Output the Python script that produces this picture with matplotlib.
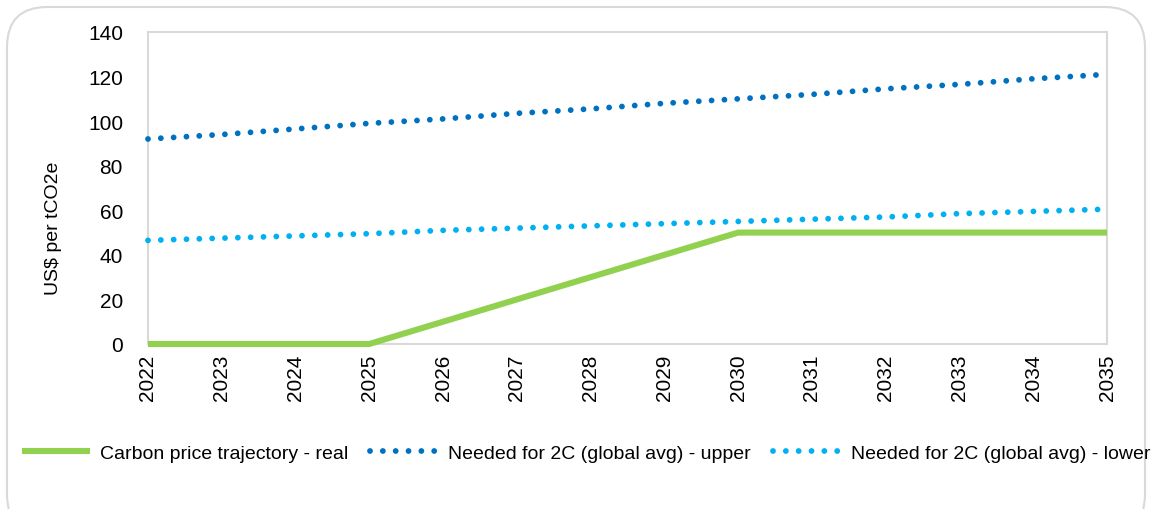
import matplotlib
matplotlib.use("Agg")
import matplotlib.pyplot as plt
from matplotlib import font_manager
from matplotlib.patches import FancyBboxPatch

names = {f.name for f in font_manager.fontManager.ttflist}
fam = 'Liberation Sans Narrow' if 'Liberation Sans Narrow' in names else 'Liberation Sans'
plt.rcParams['font.family'] = [fam, 'DejaVu Sans']

years = [2022, 2023, 2024, 2025, 2026, 2027, 2028, 2029, 2030, 2031, 2032, 2033, 2034, 2035]
real = [0, 0, 0, 0, 10, 20, 30, 40, 50, 50, 50, 50, 50, 50]
upper = [92, 94, 96.5, 99, 101, 103.5, 105.5, 108, 110, 112, 114.5, 116.5, 119, 121]
lower = [46.5, 47.5, 48.5, 49.5, 51, 52, 53, 54, 55, 56, 57, 58.5, 59.5, 60.5]
labels = ['Carbon price trajectory - real', 'Needed for 2C (global avg) - upper',
          'Needed for 2C (global avg) - lower']

fig = plt.figure(figsize=(11.52, 5.10), dpi=100)
ax = fig.add_axes([148/1152, 1-345/510, (1107-148)/1152, (345-33)/510])

border = FancyBboxPatch((7/1152, -0.05), (1145-7)/1152, (510-8)/510 + 0.05,
                        boxstyle="round,pad=0,rounding_size=0.035",
                        transform=fig.transFigure, facecolor='none',
                        edgecolor='#d9d9d9', linewidth=1.5, mutation_aspect=1152/510)
fig.patches.append(border)

lw = 4.2
ax.plot(years, real, color='#92d050', linewidth=4.4, solid_capstyle='butt',
        solid_joinstyle='miter', label=labels[0], clip_on=False, zorder=5)
ax.plot(years, upper, color='#0070c0', linewidth=lw, linestyle=(0, (0.001, 2.2)),
        dash_capstyle='round', label=labels[1], clip_on=False, zorder=4)
ax.plot(years, lower, color='#00b0f0', linewidth=lw, linestyle=(0, (0.001, 2.2)),
        dash_capstyle='round', label=labels[2], clip_on=False, zorder=4)

ax.set_xlim(2022, 2035)
ax.set_ylim(0, 140)
ax.set_xticks(years)
ax.set_xticklabels([str(y) for y in years], rotation=90)
ax.set_yticks(range(0, 141, 20))
ax.tick_params(axis='both', length=0, labelsize=15, colors='black')
ax.tick_params(axis='y', pad=18)
ax.tick_params(axis='x', pad=7)
for s in ax.spines.values():
    s.set_color('#d9d9d9')
    s.set_linewidth(1.5)
    s.set_zorder(1)
ax.set_ylabel('US$ per tCO2e', fontsize=14)
ax.yaxis.set_label_coords((53 - 148)/(1107-148), (345-228)/(345-33),
                          transform=None)
ax.yaxis.label.set_transform(ax.transAxes)
ax.yaxis.label.set_verticalalignment('center')

leg = fig.legend(loc='center', bbox_to_anchor=(586/1152, 1-454/510), ncol=3, frameon=False,
                 fontsize=14, handlelength=3.5, columnspacing=1.15, handletextpad=0.5,
                 borderpad=0, borderaxespad=0)

fig.savefig('out.png', dpi=100)
